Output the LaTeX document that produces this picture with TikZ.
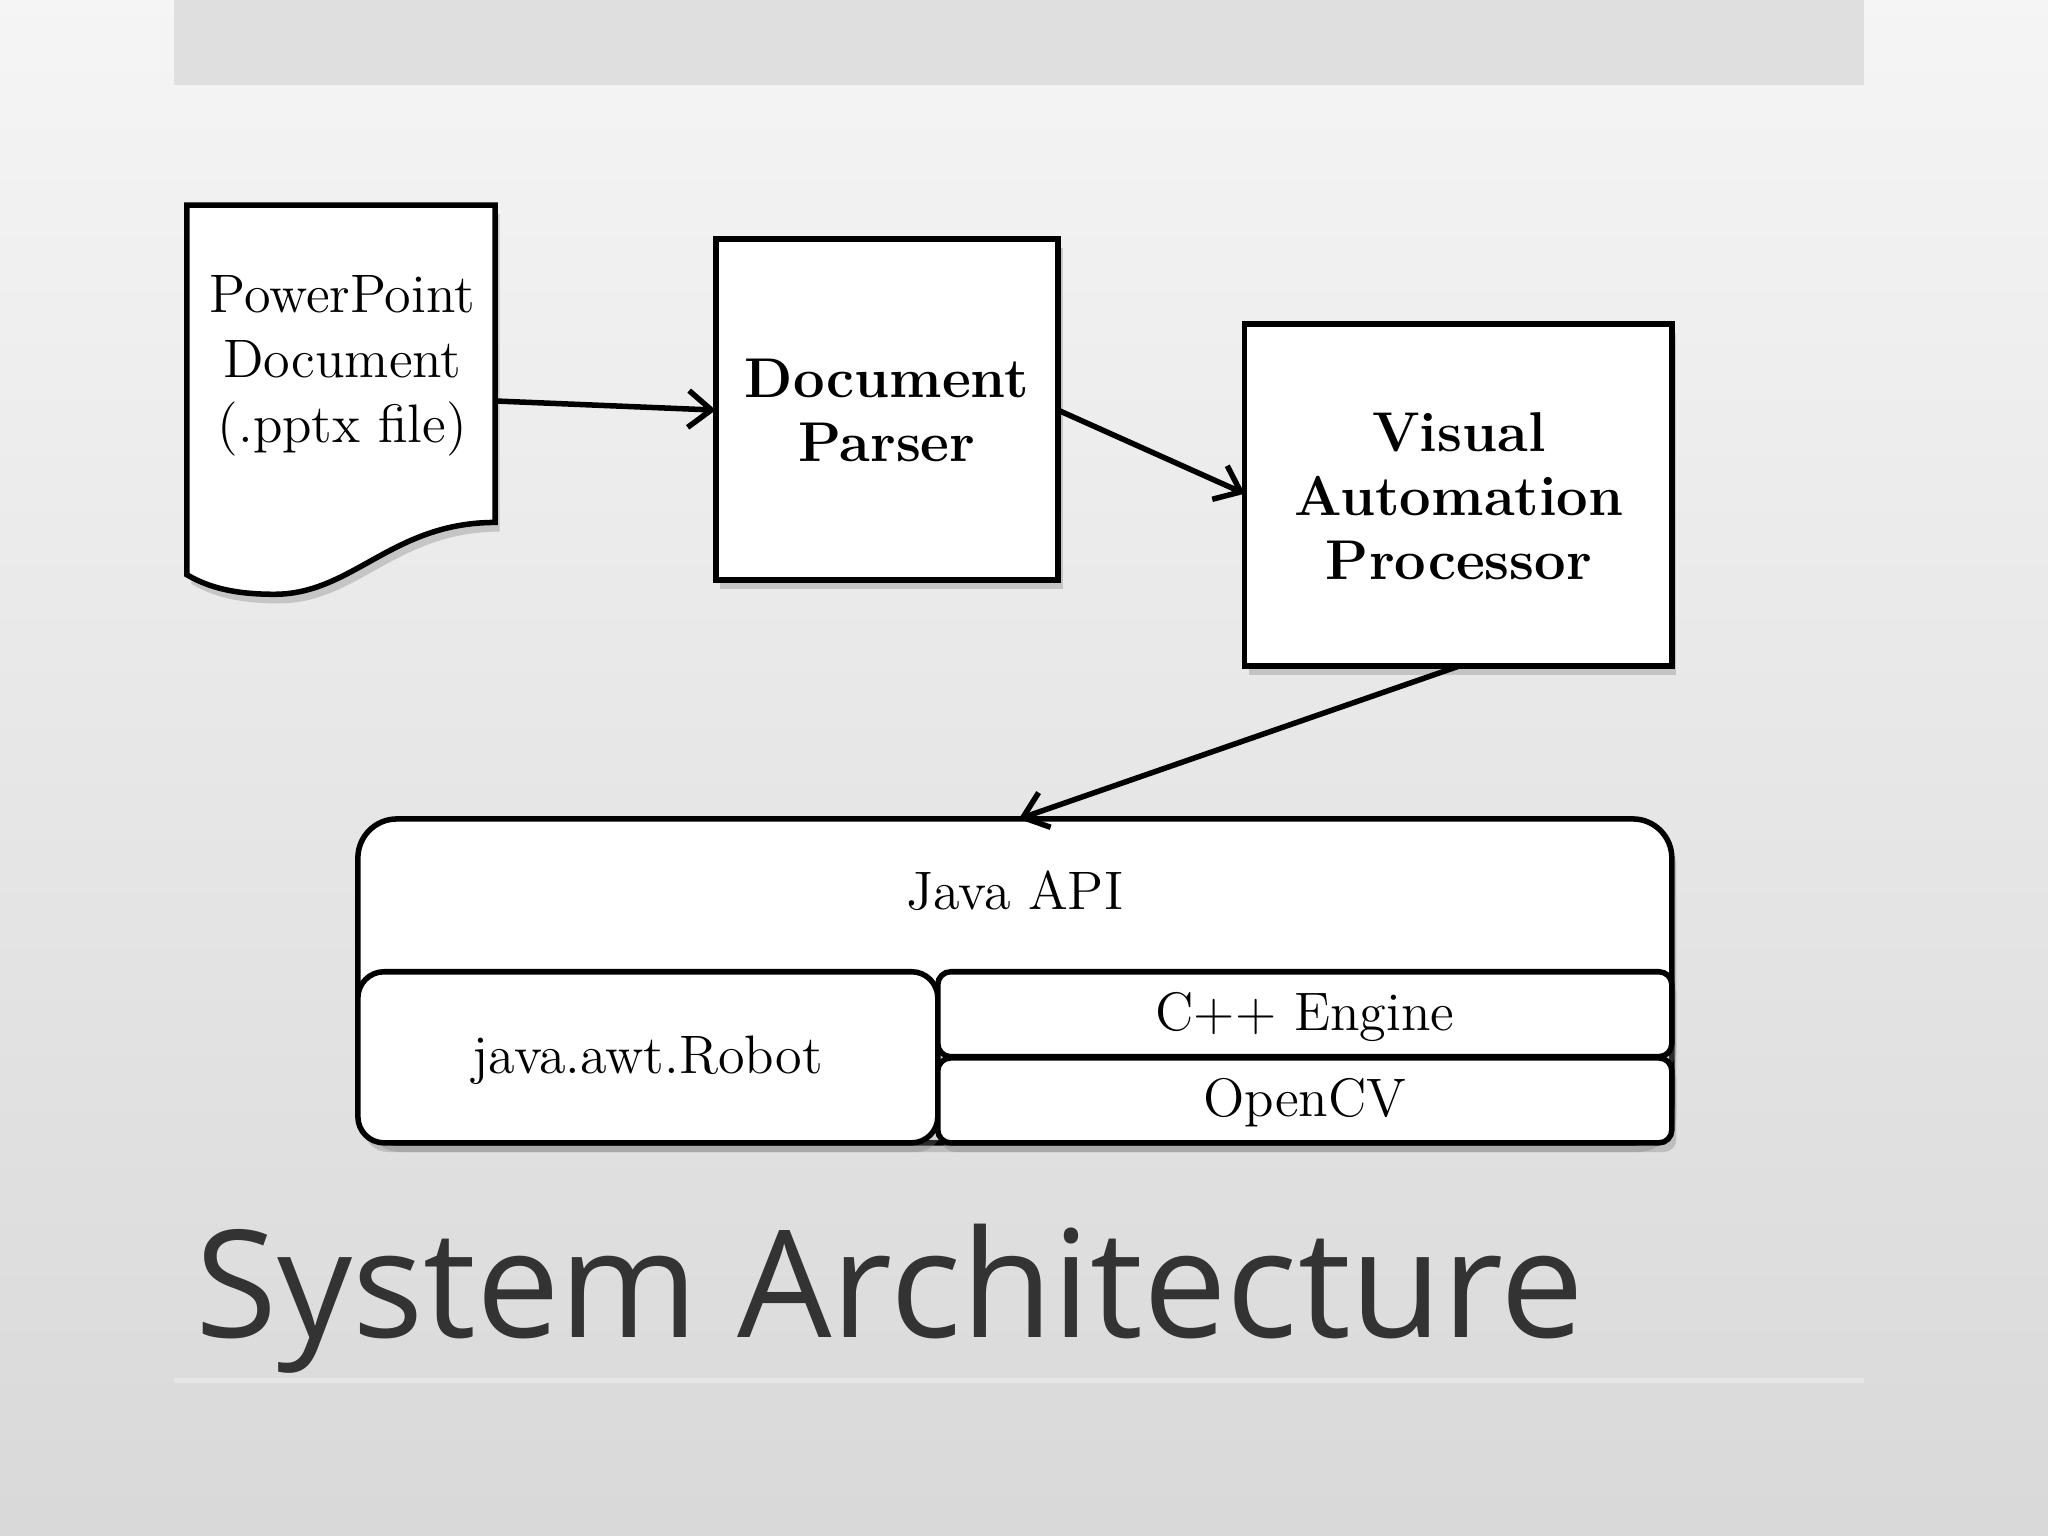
\documentclass[tikz,border=0pt]{standalone}
\usepackage{fontspec}
\newfontfamily\titlefont{Open Sans}
\usetikzlibrary{arrows.meta,shadows}
\begin{document}
\begin{tikzpicture}[x=0.01cm,y=-0.01cm,
  box/.style={draw,line width=1.2pt,fill=white,drop shadow={shadow xshift=1pt,shadow yshift=-2pt,opacity=0.35}},
  lbl/.style={font=\fontsize{11.8}{14.2}\selectfont,align=center},
  blbl/.style={font=\fontsize{12.2}{14}\selectfont\bfseries,align=center},
  arr/.style={-{Straight Barb[length=5pt,width=8pt]},line width=1.2pt}]
\shade[top color=gray!8,bottom color=gray!30] (0,0) rectangle (1568,1176);
\useasboundingbox (0,0) rectangle (1568,1176);
\fill[gray!25] (133,0) rectangle (1427,65);
\draw[gray!20,line width=1pt] (133,1057) -- (1427,1057);
% document shape
\draw[box] (143,157) -- (379,157) -- (379,400) .. controls (300,400) and (270,455) .. (210,455) .. controls (180,455) and (160,450) .. (143,440) -- cycle;
\node[lbl] (doc) at (262,280) {PowerPoint\\Document\\(.pptx file)};
\draw[box] (548,183) rectangle (810,444);
\node[blbl] (dpt) at (679,314) {Document\\Parser};
\draw[box] (953,248) rectangle (1280,510);
\node[blbl] (vap) at (1117,380) {Visual\\Automation\\Processor};
\coordinate (docR) at (379,307);
\coordinate (dpL) at (548,314);
\coordinate (dpR) at (810,314);
\coordinate (vapL) at (953,378);
\coordinate (vapB) at (1117,510);
\coordinate (javaT) at (780,627);
\draw[box,rounded corners=8.5pt] (274,627) rectangle (1280,875);
\node[lbl] (java) at (777,682) {Java API};
\draw[box,rounded corners=5.7pt] (274,744) rectangle (718,875);
\node[lbl] (robot) at (496,812) {java.awt.Robot};
\draw[box,rounded corners=2.8pt] (718,744) rectangle (1280,809);
\node[lbl] (cpp) at (999,779) {C++ Engine};
\draw[box,rounded corners=2.8pt] (718,810) rectangle (1280,875);
\node[lbl] (ocv) at (999,844) {OpenCV};
\draw[arr] (docR) -- (dpL);
\draw[arr] (dpR) -- (vapL);
\draw[arr] (vapB) -- (javaT);
\node[font=\titlefont\fontsize{32.5}{38}\selectfont,text=black!80,anchor=west] (title) at (137,994) {System Architecture};
\end{tikzpicture}
\end{document}
